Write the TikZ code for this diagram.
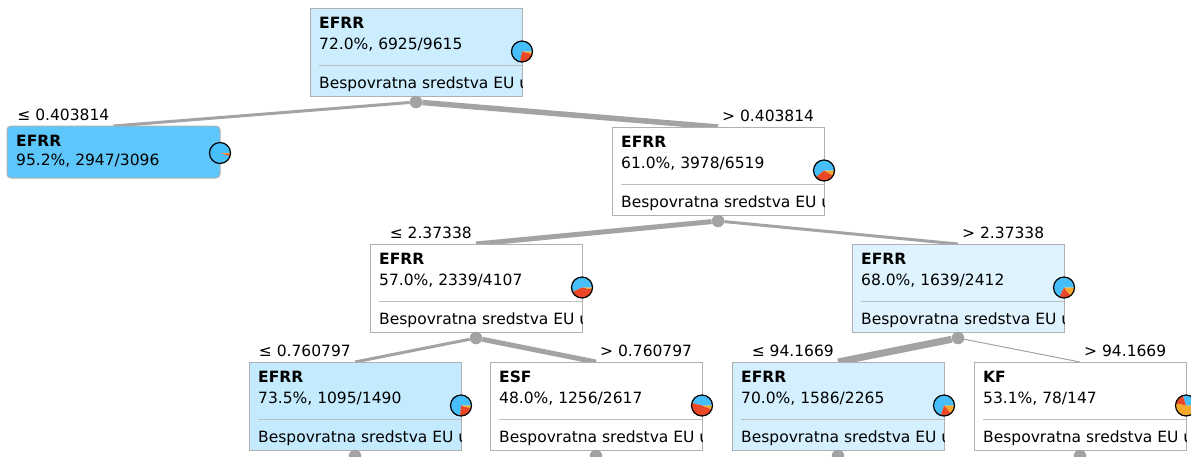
\documentclass[tikz,border=0pt]{standalone}
\usepackage{fontspec}
\setmainfont{DejaVu Sans}
\usetikzlibrary{backgrounds}
\definecolor{cB}{RGB}{70,190,250}
\definecolor{cR}{RGB}{235,72,40}
\definecolor{cO}{RGB}{245,170,45}
\definecolor{cEdge}{RGB}{163,163,166}
\definecolor{cBorder}{RGB}{176,176,176}
\definecolor{cSep}{RGB}{190,190,190}
\definecolor{fRoot}{RGB}{203,237,254}
\definecolor{fLeaf}{RGB}{93,198,251}
\definecolor{fSixtyEight}{RGB}{222,243,254}
\definecolor{fSeventyThree}{RGB}{196,234,253}
\definecolor{fSeventy}{RGB}{212,240,254}
\tikzset{
  txtfont/.style={font=\fontsize{15.5}{18}\selectfont},
  tbox/.style={draw=cBorder, line width=1pt, minimum width=212pt, minimum height=88pt, inner sep=0pt, outer sep=0pt},
  lbox/.style={draw=cBorder, line width=1pt, rounded corners=4pt, minimum width=213pt, minimum height=52pt, inner sep=0pt, outer sep=0pt},
  txt/.style={txtfont, inner sep=0pt, text=black},
  ttl/.style={font=\fontsize{15.5}{18}\selectfont\bfseries, inner sep=0pt, text=black},
  lbl/.style={txtfont, inner sep=0pt, text=black},
  sepline/.style={draw=cSep, line width=1pt},
  dot/.style={circle, fill=cEdge, inner sep=0pt, minimum size=12.5pt},
  edge/.style={draw=cEdge},
  pieline/.style={draw=black, line width=1.2pt}
}
\newcommand\piechart[3]{%
  \begin{scope}[shift={(#1)}, x=1pt, y=1pt]
    \fill[cB] (0,0) -- (0:10.5) arc[start angle=0, end angle={360*#2}, radius=10.5] -- cycle;
    \fill[cR] (0,0) -- ({360*#2}:10.5) arc[start angle={360*#2}, end angle={360*(#2+#3)}, radius=10.5] -- cycle;
    \fill[cO] (0,0) -- ({360*(#2+#3)}:10.5) arc[start angle={360*(#2+#3)}, end angle=360, radius=10.5] -- cycle;
    \draw[pieline] (0,0) circle[radius=10.5];
  \end{scope}}
\newcommand\treebox[8]{%
  \node[tbox, fill=#4, anchor=north west] (#1) at (#2,#3) {};
  \begin{scope}
    \clip (#1.north west) rectangle (#1.south east);
    \node[ttl, anchor=base west] (#1-t) at ([xshift=9pt,yshift=-20pt]#1.north west) {#5};
    \node[txt, anchor=base west] (#1-p) at ([xshift=9pt,yshift=-41pt]#1.north west) {#6};
    \draw[sepline] ([xshift=9pt,yshift=-57pt]#1.north west) -- ([yshift=-57pt]#1.north east);
    \node[txt, anchor=base west] (#1-s) at ([xshift=9pt,yshift=-80pt]#1.north west) {Bespovratna sredstva EU u};
  \end{scope}
  \coordinate (#1-c) at ([yshift=-43.5pt]#1.north east);
  \piechart{#1-c}{#7}{#8}%
  \node[dot] (#1-d) at ([yshift=-6pt]#1.south) {};
}
\begin{document}
\begin{tikzpicture}[x=1pt, y=-1pt]
\useasboundingbox (0,0) rectangle (1191,456);
% boxes
\treebox{root}{310}{8}{fRoot}{EFRR}{72.0\%, 6925/9615}{0.72}{0.24}
\node[lbox, fill=fLeaf, anchor=north west] (leaf) at (7,126) {};
\node[ttl, anchor=base west] (leaf-t) at ([xshift=9pt,yshift=-20pt]leaf.north west) {EFRR};
\node[txt, anchor=base west] (leaf-p) at ([xshift=9pt,yshift=-39.5pt]leaf.north west) {95.2\%, 2947/3096};
\coordinate (leaf-c) at ([yshift=-27pt]leaf.north east);
\piechart{leaf-c}{0.952}{0.025}
\treebox{nA}{612}{127}{white}{EFRR}{61.0\%, 3978/6519}{0.61}{0.31}
\treebox{nB}{370}{244}{white}{EFRR}{57.0\%, 2339/4107}{0.57}{0.40}
\treebox{nC}{852}{244}{fSixtyEight}{EFRR}{68.0\%, 1639/2412}{0.68}{0.18}
\treebox{nD}{249}{362}{fSeventyThree}{EFRR}{73.5\%, 1095/1490}{0.735}{0.22}
\treebox{nE}{490}{362}{white}{ESF}{48.0\%, 1256/2617}{0.46}{0.48}
\treebox{nF}{732}{362}{fSeventy}{EFRR}{70.0\%, 1586/2265}{0.70}{0.17}
\treebox{nG}{974}{362}{white}{KF}{53.1\%, 78/147}{0.30}{0.17}
% edges
\begin{scope}[on background layer]
  \fill[white] (0,0) rectangle (1191,456);
  \draw[edge, line width=3pt] (root-d) -- (leaf.north);
  \draw[edge, line width=5.5pt] (root-d) -- (nA.north);
  \draw[edge, line width=5pt] (nA-d) -- (nB.north);
  \draw[edge, line width=3pt] (nA-d) -- (nC.north);
  \draw[edge, line width=3pt] (nB-d) -- (nD.north);
  \draw[edge, line width=5pt] (nB-d) -- (nE.north);
  \draw[edge, line width=7pt] (nC-d) -- (nF.north);
  \draw[edge, line width=1pt] (nC-d) -- (nG.north);
\end{scope}
% labels
\node[lbl, anchor=base east] (l1) at ([xshift=-4pt,yshift=5.5pt]leaf.north) {≤ 0.403814};
\node[lbl, anchor=base west] (l2) at ([xshift=4pt,yshift=5.5pt]nA.north) {> 0.403814};
\node[lbl, anchor=base east] (l3) at ([xshift=-4pt,yshift=5.5pt]nB.north) {≤ 2.37338};
\node[lbl, anchor=base west] (l4) at ([xshift=4pt,yshift=5.5pt]nC.north) {> 2.37338};
\node[lbl, anchor=base east] (l5) at ([xshift=-4pt,yshift=5.5pt]nD.north) {≤ 0.760797};
\node[lbl, anchor=base west] (l6) at ([xshift=4pt,yshift=5.5pt]nE.north) {> 0.760797};
\node[lbl, anchor=base east] (l7) at ([xshift=-4pt,yshift=5.5pt]nF.north) {≤ 94.1669};
\node[lbl, anchor=base west] (l8) at ([xshift=4pt,yshift=5.5pt]nG.north) {> 94.1669};
\end{tikzpicture}
\end{document}
